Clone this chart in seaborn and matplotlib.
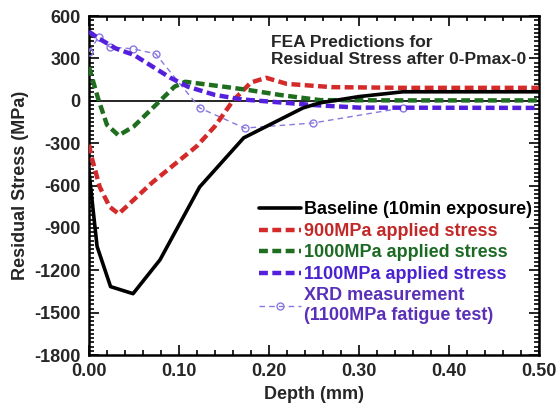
import numpy as np
import pandas as pd
import matplotlib
matplotlib.use("Agg")
import matplotlib.pyplot as plt
from matplotlib.ticker import MultipleLocator, FormatStrFormatter
import seaborn as sns

# ---- data ----
base_x = [0.0, 0.009, 0.024, 0.049, 0.079, 0.123, 0.172, 0.238, 0.257, 0.30, 0.349, 0.50]
base_y = [-500, -1030, -1315, -1365, -1125, -610, -262, -50, -14, 30, 64, 64]

s900_x = [0.0, 0.003, 0.012, 0.023, 0.033, 0.07, 0.12, 0.14, 0.16, 0.18, 0.197, 0.22, 0.27, 0.35, 0.50]
s900_y = [-310, -400, -610, -750, -800, -580, -320, -180, 0, 130, 163, 120, 97, 92, 92]

s1000_x = [0.0, 0.01, 0.02, 0.033, 0.05, 0.079, 0.095, 0.107, 0.15, 0.176, 0.212, 0.257, 0.35, 0.50]
s1000_y = [240, 20, -170, -245, -180, 0, 100, 135, 100, 78, 42, 5, 3, 3]

s1100_x = [0.0, 0.01, 0.03, 0.05, 0.07, 0.09, 0.11, 0.14, 0.17, 0.20, 0.25, 0.30, 0.50]
s1100_y = [490, 445, 370, 325, 245, 165, 100, 42, 10, -5, -30, -48, -50]

xrd_x = [0.0, 0.011, 0.023, 0.049, 0.074, 0.123, 0.173, 0.249, 0.349]
xrd_y = [348, 453, 382, 368, 333, -50, -193, -157, -50]

labels = ["Baseline (10min exposure)", "900MPa applied stress",
          "1000MPa applied stress", "1100MPa applied stress",
          "XRD measurement\n(1100MPa fatigue test)"]
line_colors = ["#000000", "#d42a2a", "#1f6e1f", "#5520dd", "#8a78e0"]
text_colors = ["#000000", "#c22828", "#1d6a25", "#4a22d0", "#5a30b8"]

# ---- plot ----
sns.set_theme(style="ticks")
plt.rcParams["font.family"] = ["Liberation Sans", "DejaVu Sans"]
plt.rcParams["axes.unicode_minus"] = False

fig = plt.figure(figsize=(5.56, 4.12), dpi=100)
ax = fig.add_axes([0.160, 0.138, 0.809, 0.823])

ax.axhline(0, color="black", lw=1.2, zorder=1)

sns.lineplot(x=base_x, y=base_y, ax=ax, color=line_colors[0], lw=2.6,
             sort=False, label=labels[0], zorder=5)
sns.lineplot(x=s900_x, y=s900_y, ax=ax, color=line_colors[1], lw=3.2,
             sort=False, label=labels[1], zorder=4)
sns.lineplot(x=s1000_x, y=s1000_y, ax=ax, color=line_colors[2], lw=3.2,
             sort=False, label=labels[2], zorder=4)
sns.lineplot(x=s1100_x, y=s1100_y, ax=ax, color=line_colors[3], lw=3.2,
             sort=False, label=labels[3], zorder=4)
sns.lineplot(x=xrd_x, y=xrd_y, ax=ax, color=line_colors[4], lw=1.0,
             sort=False, label=labels[4], marker="o", markersize=5,
             markerfacecolor="none", markeredgecolor=line_colors[4],
             markeredgewidth=1.0, zorder=3)

lines = ax.get_lines()[1:]
for ln in lines[1:4]:
    ln.set_linestyle((0, (2.0, 1.0)))
lines[4].set_linestyle((0, (4, 3)))

ax.set_xlim(0, 0.5)
ax.set_ylim(-1800, 600)
ax.xaxis.set_major_locator(MultipleLocator(0.1))
ax.xaxis.set_minor_locator(MultipleLocator(0.02))
ax.yaxis.set_major_locator(MultipleLocator(300))
ax.yaxis.set_minor_locator(MultipleLocator(30))
ax.xaxis.set_major_formatter(FormatStrFormatter("%.2f"))

ax.tick_params(which="both", direction="in", top=True, right=True, width=1.4)
ax.tick_params(which="major", length=7, labelsize=13, pad=6)
ax.tick_params(which="minor", length=3.5)
for lab in ax.get_xticklabels() + ax.get_yticklabels():
    lab.set_fontweight("bold")
for sp in ax.spines.values():
    sp.set_linewidth(1.8)
    sp.set_color("black")

ax.set_xlabel("Depth (mm)", fontsize=13, fontweight="bold", labelpad=4)
ax.set_ylabel("Residual Stress (MPa)", fontsize=13, fontweight="bold", labelpad=4)

ax.text(0.405, 0.945, "FEA Predictions for\nResidual Stress after 0-Pmax-0",
        transform=ax.transAxes, fontsize=12.5, fontweight="bold",
        ha="left", va="top", linespacing=1.15)

leg = ax.legend(loc="lower right", bbox_to_anchor=(1.01, 0.06), frameon=False,
                fontsize=13, handlelength=2.3, handletextpad=0.2,
                labelspacing=0.25, borderaxespad=0.2)
for t, c in zip(leg.get_texts(), text_colors):
    t.set_color(c)
    t.set_fontweight("bold")

fig.savefig("out.png", dpi=100)
